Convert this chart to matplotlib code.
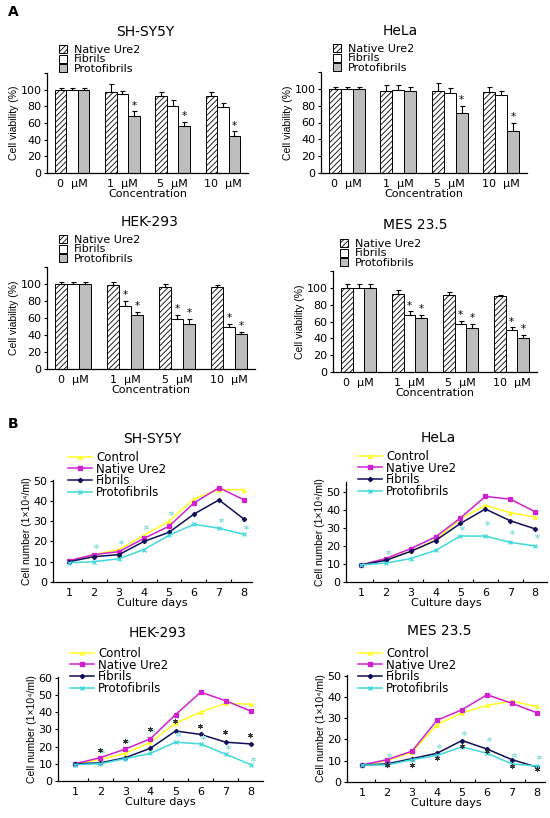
import numpy as np
import matplotlib
matplotlib.use('Agg')
import matplotlib.pyplot as plt
from matplotlib.patches import Patch
from matplotlib.lines import Line2D

plt.rcParams['font.family'] = ['DejaVu Sans']
plt.rcParams['hatch.linewidth'] = 0.6

W, H = 550, 818

# ---- panel A data (cell viability, %) ----
conc_labels = ['0  μM', '1  μM', '5  μM', '10  μM']
series_names = ['Native Ure2', 'Fibrils', 'Protofibrils']

sh_native = [100, 97, 92, 92]
sh_native_err = [2, 10, 5, 5]
sh_fib = [100, 95, 80, 79]
sh_fib_err = [2, 4, 8, 5]
sh_proto = [100, 68, 56, 45]
sh_proto_err = [2, 6, 5, 5]
sh_stars = [[], [], [1, 2, 3]]

he_native = [100, 98, 98, 96]
he_native_err = [2, 7, 9, 6]
he_fib = [100, 99, 95, 93]
he_fib_err = [2, 5, 6, 5]
he_proto = [100, 97, 71, 50]
he_proto_err = [2, 5, 9, 10]
he_stars = [[], [], [2, 3]]

hek_native = [100, 99, 96, 96]
hek_native_err = [2, 3, 4, 3]
hek_fib = [100, 74, 59, 49]
hek_fib_err = [2, 6, 5, 4]
hek_proto = [100, 64, 53, 41]
hek_proto_err = [2, 3, 6, 3]
hek_stars = [[], [1, 2, 3], [1, 2, 3]]

mes_native = [100, 93, 92, 90]
mes_native_err = [4, 4, 3, 2]
mes_fib = [100, 68, 57, 50]
mes_fib_err = [4, 4, 4, 3]
mes_proto = [100, 64, 52, 40]
mes_proto_err = [4, 4, 5, 4]
mes_stars = [[], [1, 2, 3], [1, 2, 3]]

# ---- panel B data (cell number, 1x10^4/ml) ----
days = [1, 2, 3, 4, 5, 6, 7, 8]
line_names = ['Control', 'Native Ure2', 'Fibrils', 'Protofibrils']

sh_ctrl = [10.5, 13.5, 16, 23, 30, 41, 45.5, 45.5]
sh_nat = [10.5, 13.5, 15, 21.5, 27.5, 39, 46.5, 40.5]
sh_fibl = [10, 12.5, 13.5, 20, 24.5, 33.5, 40.5, 31]
sh_prot = [9.5, 10, 11.5, 16, 23, 28.5, 26.5, 23.5]
sh_cstar_x = [2, 3, 4, 5, 7, 8]
sh_cstar_y = [17.8, 19.8, 27.2, 34.2, 30.7, 27.2]
sh_kstar_x, sh_kstar_y = [], []

he_ctrl = [9.5, 12.5, 17, 23.5, 35, 42.5, 38.5, 36]
he_nat = [9.5, 13, 18.5, 25, 35.5, 47.5, 46, 39]
he_fibl = [9.5, 12, 17, 23, 32.5, 40.5, 34, 29.5]
he_prot = [9.5, 10.5, 13, 17.5, 25.5, 25.5, 22, 20]
he_cstar_x = [2, 5, 6, 7, 8]
he_cstar_y = [16.9, 29.8, 32.9, 27.6, 25.5]
he_kstar_x, he_kstar_y = [], []

hek_ctrl = [10, 12.5, 16, 22.5, 33.5, 40, 45, 44.5]
hek_nat = [10, 13.5, 18.5, 24.5, 38.5, 51.5, 46.5, 40.5]
hek_fibl = [10, 10.5, 13.5, 19, 29, 27, 22.5, 21.5]
hek_prot = [9.5, 10, 13, 16, 22.5, 21.5, 15.5, 9.5]
hek_cstar_x = [2, 3, 4, 5, 6, 7, 8]
hek_cstar_y = [17.5, 23, 29.5, 27, 25.5, 19.8, 12.8]
hek_kstar_x = [2, 3, 4, 5, 6, 7, 8]
hek_kstar_y = [18.2, 23.3, 29.9, 34.8, 31.8, 28.2, 26.4]

mes_ctrl = [8, 10, 14, 27, 32.5, 36, 38, 35.5]
mes_nat = [8, 10.5, 14.5, 29, 34, 41, 37, 32.5]
mes_fibl = [8, 8.5, 11, 13.5, 19.5, 15.5, 10.5, 7]
mes_prot = [8, 8, 10.5, 12.5, 16.5, 13.5, 8.5, 7.5]
mes_cstar_x = [2, 4, 5, 6, 7, 8]
mes_cstar_y = [12.8, 17, 23, 20.2, 12.8, 11.7]
mes_kstar_x = [2, 3, 4, 5, 6, 7, 8]
mes_kstar_y = [8.0, 8.1, 11.2, 16.7, 14.8, 7.3, 6.1]

fig = plt.figure(figsize=(W / 100, H / 100), dpi=100)


def rect(l, t, r, b):
    return [l / W, 1 - b / H, (r - l) / W, (b - t) / H]


def ftext(x, y, s, **kw):
    fig.text(x / W, 1 - y / H, s, **kw)


def style_axes(ax):
    for s in ['top', 'right']:
        ax.spines[s].set_visible(False)
    ax.spines['left'].set_linewidth(0.9)
    ax.spines['bottom'].set_linewidth(0.9)
    ax.tick_params(axis='y', length=2.5, width=0.8, labelsize=8, pad=1.5)


def bar_panel(box, title, tpos, legpos, vals, errs, stars):
    ax = fig.add_axes(rect(*box))
    x = np.arange(len(conc_labels))
    w = 0.23
    styles = [dict(color='white', hatch='//////'),
              dict(color='white'),
              dict(color='#bdbdbd')]
    for i, (v, e, st) in enumerate(zip(vals, errs, styles)):
        xs = x + (i - 1) * w
        ax.bar(xs, v, w, edgecolor='black', linewidth=0.7, **st)
        ax.errorbar(xs, v, yerr=[np.zeros(len(e)), e], fmt='none',
                    ecolor='black', elinewidth=0.8, capsize=1.8, capthick=0.8)
        for j in stars[i]:
            ax.text(xs[j], v[j] + e[j] + 1, '*', ha='center', va='bottom',
                    fontsize=7.5)
    ax.set_xlim(-0.5, 3.5)
    ax.set_ylim(0, 120)
    ax.set_yticks([0, 20, 40, 60, 80, 100, 120])
    ax.set_yticklabels(['0', '20', '40', '60', '80', '100', ''])
    ax.set_xticks(x)
    ax.set_xticklabels(conc_labels)
    style_axes(ax)
    ax.tick_params(axis='x', length=0, labelsize=8, pad=4)
    ax.set_xlabel('Concentration', fontsize=8, labelpad=0)
    ax.set_ylabel('Cell viability (%)', fontsize=7.5, labelpad=1,
                  family='Liberation Sans')
    ftext(tpos[0], tpos[1], title, ha='center', va='center', fontsize=10)
    handles = [Patch(facecolor=st['color'], edgecolor='black',
                     hatch=st.get('hatch'), linewidth=0.7) for st in styles]
    ax.legend(handles, series_names, loc='upper left', frameon=False,
              bbox_to_anchor=(legpos[0] / W, 1 - legpos[1] / H),
              bbox_transform=fig.transFigure, fontsize=8, borderpad=0,
              handlelength=0.75, handleheight=0.75, handletextpad=0.6,
              labelspacing=-0.05, borderaxespad=0)


def line_panel(box, xlim, ylim, yticks, title, tpos, legpos, series,
               cstar, kstar):
    ax = fig.add_axes(rect(*box))
    colors = ['#ffff22', '#d020d0', '#10105a', '#40d8d8']
    markers = ['^', 's', 'D', 'x']
    msizes = [2.5, 2.8, 2.2, 3]
    for ys, c, m, ms in zip(series, colors, markers, msizes):
        ax.plot(days, ys, color=c, marker=m, markersize=ms, linewidth=1.1,
                markeredgewidth=0.9)
    ax.scatter(np.array(cstar[0]) + 0.08, cstar[1], marker=(6, 2, 0),
               s=10, color='#9fe3e3', linewidths=0.7, zorder=3)
    if kstar[0]:
        ax.scatter(np.array(kstar[0]) - 0.02, kstar[1], marker=(6, 2, 0),
                   s=10, color='#333333', linewidths=0.7, zorder=3)
    ax.set_xlim(*xlim)
    ax.set_ylim(*ylim)
    ax.set_yticks(yticks)
    ax.set_xticks(days)
    ax.set_xticks(np.array(days[:-1]) + 0.5, minor=True)
    style_axes(ax)
    ax.tick_params(axis='x', which='major', length=0, labelsize=8, pad=4)
    ax.tick_params(axis='x', which='minor', length=2.5, width=0.8,
                   direction='in')
    ax.set_xlabel('Culture days', fontsize=8, labelpad=0)
    ax.set_ylabel('Cell number (1×10⁴/ml)', fontsize=7.5, labelpad=1,
                  family='Liberation Sans')
    ftext(tpos[0], tpos[1], title, ha='center', va='center', fontsize=10)
    handles = [Line2D([], [], color=c, marker=m, markersize=ms, linewidth=1.1)
               for c, m, ms in zip(colors, markers, msizes)]
    ax.legend(handles, line_names, loc='upper left', frameon=False,
              bbox_to_anchor=(legpos[0] / W, 1 - legpos[1] / H),
              bbox_transform=fig.transFigure, fontsize=8.5, borderpad=0,
              handlelength=2.0, handletextpad=0.4, labelspacing=-0.12,
              borderaxespad=0)


ftext(8, 12, 'A', ha='left', va='center', fontsize=10, fontweight='bold')
ftext(8, 424, 'B', ha='left', va='center', fontsize=10, fontweight='bold')

bar_panel((47, 73, 248, 173), 'SH-SY5Y', (145, 32), (59, 45),
          [sh_native, sh_fib, sh_proto],
          [sh_native_err, sh_fib_err, sh_proto_err], sh_stars)
bar_panel((321, 72, 527, 173), 'HeLa', (400, 31), (333, 44),
          [he_native, he_fib, he_proto],
          [he_native_err, he_fib_err, he_proto_err], he_stars)
bar_panel((47, 267, 255, 369), 'HEK-293', (150, 222), (59, 235),
          [hek_native, hek_fib, hek_proto],
          [hek_native_err, hek_fib_err, hek_proto_err], hek_stars)
bar_panel((333, 271, 537, 372), 'MES 23.5', (415, 225), (340, 239),
          [mes_native, mes_fib, mes_proto],
          [mes_native_err, mes_fib_err, mes_proto_err], mes_stars)

line_panel((53, 480, 252, 582), (0.36, 8.32), (0, 50.3), [0, 10, 20, 30, 40, 50],
           'SH-SY5Y', (152, 439), (68, 451),
           [sh_ctrl, sh_nat, sh_fibl, sh_prot],
           (sh_cstar_x, sh_cstar_y), (sh_kstar_x, sh_kstar_y))
line_panel((346, 482, 547, 582), (0.40, 8.48), (0, 55.5), [0, 10, 20, 30, 40, 50],
           'HeLa', (438, 438), (358, 450),
           [he_ctrl, he_nat, he_fibl, he_prot],
           (he_cstar_x, he_cstar_y), (he_kstar_x, he_kstar_y))
line_panel((58, 677, 263, 781), (0.32, 8.48), (0, 60.3), [0, 10, 20, 30, 40, 50, 60],
           'HEK-293', (158, 633), (70, 647),
           [hek_ctrl, hek_nat, hek_fibl, hek_prot],
           (hek_cstar_x, hek_cstar_y), (hek_kstar_x, hek_kstar_y))
line_panel((347, 675, 545, 782), (0.40, 8.32), (0, 50.3), [0, 10, 20, 30, 40, 50],
           'MES 23.5', (439, 631), (358, 647),
           [mes_ctrl, mes_nat, mes_fibl, mes_prot],
           (mes_cstar_x, mes_cstar_y), (mes_kstar_x, mes_kstar_y))

fig.savefig('out.png', dpi=100)
